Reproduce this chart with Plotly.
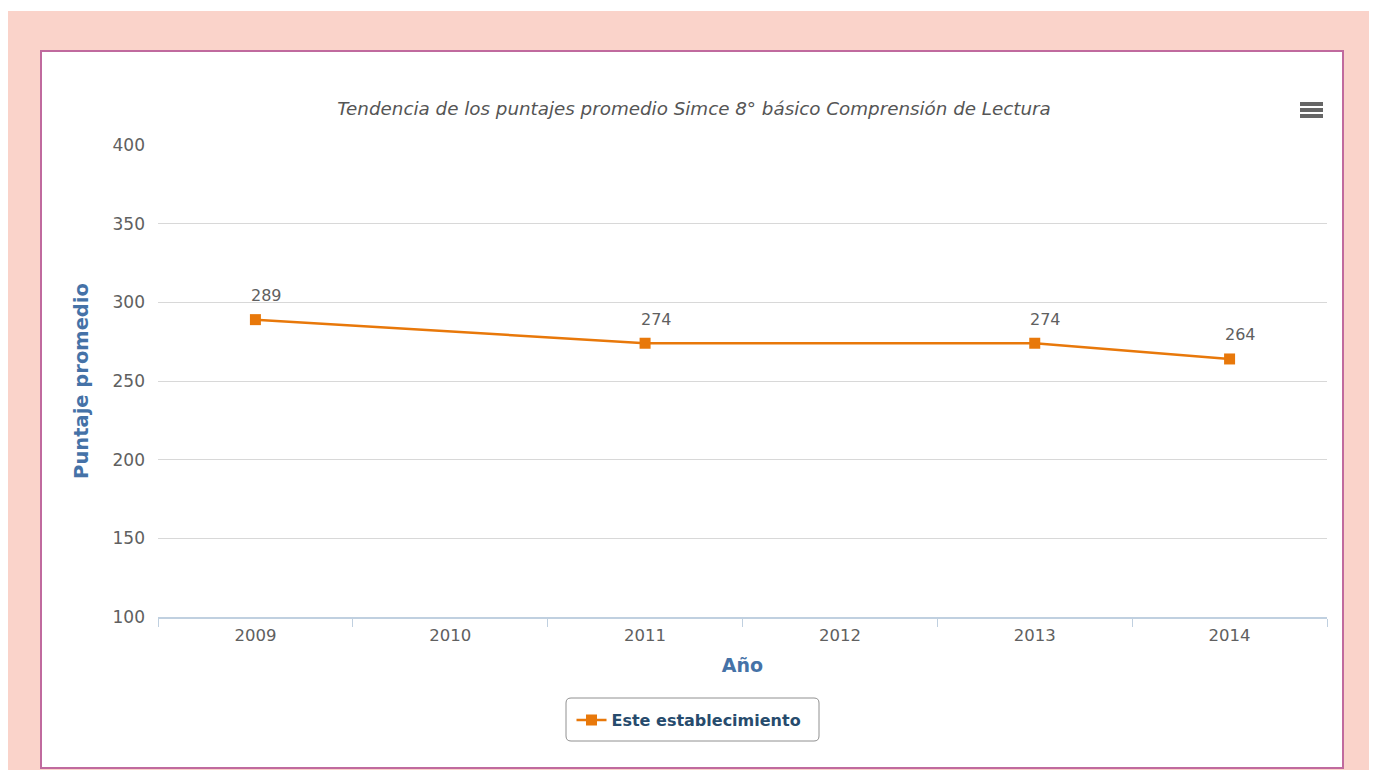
import plotly.graph_objects as go

# ---- data ----
years = ["2009", "2010", "2011", "2012", "2013", "2014"]
scores = [289, None, 274, None, 274, 264]
series_name = "Este establecimiento"
chart_title = "Tendencia de los puntajes promedio Simce 8° básico Comprensión de Lectura"
y_title = "Puntaje promedio"
x_title = "Año"
y_ticks = [100, 150, 200, 250, 300, 350, 400]

# ---- layout geometry (reference screen pixels; page body has an 8px offset) ----
OFF = 8
W, H = 1379 - OFF, 770 - OFF
L, R, T, B = 158 - OFF, 1327 - OFF, 145 - OFF, 617 - OFF
pw, ph = R - L, B - T


def px(x):
    return (x - OFF - L) / pw


def py(y):
    return (B - (y - OFF)) / ph


def rounded_rect(x0, y0, x1, y1, r):
    X0, X1 = px(x0), px(x1)
    Y0, Y1 = py(y0), py(y1)  # Y0 top (larger), Y1 bottom
    rx, ry = r / pw, r / ph
    return (f"M {X0 + rx},{Y0} L {X1 - rx},{Y0} Q {X1},{Y0} {X1},{Y0 - ry} "
            f"L {X1},{Y1 + ry} Q {X1},{Y1} {X1 - rx},{Y1} "
            f"L {X0 + rx},{Y1} Q {X0},{Y1} {X0},{Y1 + ry} "
            f"L {X0},{Y0 - ry} Q {X0},{Y0} {X0 + rx},{Y0} Z")


ORANGE = "#E8780A"
BLUE = "#4572A7"
GRAY = "#606060"
FONT = "DejaVu Sans"

fig = go.Figure()
fig.add_trace(go.Scatter(
    x=years, y=scores, name=series_name, mode="lines+markers",
    connectgaps=True,
    line=dict(color=ORANGE, width=2.5),
    marker=dict(symbol="square", size=11, color=ORANGE),
))

annotations = []
for i, v in enumerate(scores):
    if v is None:
        continue
    annotations.append(dict(
        x=i, y=v, xref="x", yref="y", text=str(v), showarrow=False,
        xshift=11, yshift=24, font=dict(family=FONT, size=16, color=GRAY),
    ))

shapes = [
    # pink page background
    dict(type="rect", xref="paper", yref="paper", x0=px(7), x1=px(1369),
         y0=py(790), y1=py(11), fillcolor="#FAD3CA", line=dict(width=0), layer="below"),
    # white chart box with border
    dict(type="rect", xref="paper", yref="paper", x0=px(41), x1=px(1343),
         y0=py(768), y1=py(51), fillcolor="white",
         line=dict(color="#C06A9E", width=2), layer="below"),
    # rounded legend frame
    dict(type="path", xref="paper", yref="paper",
         path=rounded_rect(566, 698, 819, 741, 5), fillcolor="white",
         line=dict(color="#909090", width=1), layer="below"),
]
# hamburger menu icon
for yy in (104, 110, 116):
    shapes.append(dict(type="line", xref="paper", yref="paper",
                       x0=px(1300), x1=px(1323), y0=py(yy), y1=py(yy),
                       line=dict(color="#666666", width=4)))

fig.update_layout(
    width=W, height=H,
    margin=dict(l=L, r=W - R, t=T, b=H - B, pad=0),
    paper_bgcolor="white", plot_bgcolor="white",
    font=dict(family=FONT, color=GRAY, size=16),
    title=dict(text="<i>" + chart_title + "</i>", x=(694 - OFF) / W, xanchor="center",
               xref="container", yref="container", y=1 - (109 - OFF) / H, yanchor="middle",
               font=dict(family=FONT, size=18.3, color="#555555")),
    xaxis=dict(
        type="category", categoryorder="array", categoryarray=years,
        range=[-0.5, 5.5], tickson="boundaries", ticks="outside", ticklen=8,
        tickcolor="#C0D0E0", tickwidth=1, showline=True, linecolor="#C0D0E0", linewidth=2,
        showgrid=False, tickfont=dict(family=FONT, size=16.5, color=GRAY),
        ticklabelstandoff=2,
        title=dict(text="<b>" + x_title + "</b>", standoff=15,
                   font=dict(family=FONT, size=19, color=BLUE)),
        fixedrange=True,
    ),
    yaxis=dict(
        range=[100, 400], tickvals=y_ticks, showgrid=True, gridcolor="#D8D8D8",
        gridwidth=1, zeroline=False, showline=False, ticks="",
        ticklabelstandoff=12, tickfont=dict(family=FONT, size=17, color=GRAY),
        title=dict(text="<b>" + y_title + "</b>", standoff=18,
                   font=dict(family=FONT, size=19.5, color=BLUE)),
        fixedrange=True,
    ),
    showlegend=True,
    legend=dict(orientation="h", x=(689 - OFF) / W, xref="container", xanchor="center",
                y=1 - (720 - OFF) / H, yref="container", yanchor="middle",
                borderwidth=0, bgcolor="rgba(0,0,0,0)", itemwidth=30,
                font=dict(family=FONT, size=16, color="#274B6D", weight="bold")),
    annotations=annotations,
    shapes=shapes,
)

fig.write_html("out.html", config={"displayModeBar": False})
